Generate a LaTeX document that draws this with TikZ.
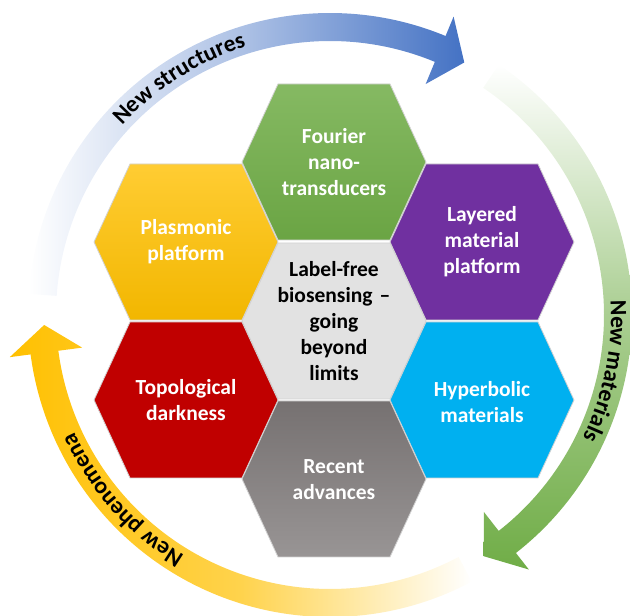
\documentclass[tikz,border=0pt]{standalone}
\usepackage{fontspec}
\setmainfont{Carlito}
\usetikzlibrary{calc, decorations.text}

\definecolor{hexgreen}{HTML}{70AD47}
\definecolor{hexyellow}{HTML}{FFC000}
\definecolor{hexpurple}{HTML}{7030A0}
\definecolor{hexred}{HTML}{C00000}
\definecolor{hexblue}{HTML}{00B0F0}
\definecolor{hexlight}{HTML}{E2E2E2}
\definecolor{hexdark}{HTML}{767171}
\definecolor{arrowblue}{HTML}{4472C4}
\definecolor{arrowgreen}{HTML}{70AD47}
\definecolor{arrowyellow}{HTML}{FFC000}

\newcommand{\ringfont}{\bfseries\fontsize{23.5}{23.5}\selectfont}

\begin{document}
\begin{tikzpicture}[x=1pt, y=1pt]
% Styles
\tikzstyle{hexbox} = [draw=gray!35, line width=0.8pt]
\tikzstyle{hexlabel} = [text width=150pt, align=center, inner sep=0pt, text=white, font=\bfseries\fontsize{21.5}{26}\selectfont]
\tikzstyle{ringtext} = [decorate, decoration={text along path, text align=center, text color=black}]

\useasboundingbox (0,0) rectangle (630,616);

% hexagon outline round the origin
\def\hexpath{(-56,78) -- (56,78) -- (92,0) -- (56,-78) -- (-56,-78) -- (-92,0) -- cycle}

% Ring of arrows
\begin{scope}[shift={(330,301)}]
\shade[left color=white, right color=arrowblue, middle color=arrowblue!45!white]
  (176:302) arc[start angle=176, end angle=67.5, radius=302] -- (67.5:323) -- (62:286) -- (67.5:250)
  -- (67.5:274) arc[start angle=67.5, end angle=176, radius=274] -- cycle;
\shade[top color=white, bottom color=arrowgreen, middle color=arrowgreen!60!white]
  (56:302) arc[start angle=56, end angle=-52, radius=302] -- (-52:323) -- (-57.5:286) -- (-52:250)
  -- (-52:274) arc[start angle=-52, end angle=56, radius=274] -- cycle;
\shade[left color=arrowyellow, right color=white, middle color=arrowyellow!70!white]
  (-62:302) arc[start angle=-62, end angle=-172.5, radius=302] -- (-172.5:323) -- (-178:286) -- (-172.5:250)
  -- (-172.5:274) arc[start angle=-172.5, end angle=-62, radius=274] -- cycle;

\path[ringtext, decoration={text={|\ringfont|New structures}}]
  (147.5:281) arc[start angle=147.5, end angle=97.5, radius=281];
\path[ringtext, decoration={text={|\ringfont|New materials}}]
  (13.5:281) arc[start angle=13.5, end angle=-36.5, radius=281];
\path[ringtext, decoration={text={|\ringfont|New phenomena}}]
  (-113.3:281) arc[start angle=-113.3, end angle=-163.3, radius=281];
\end{scope}

% Hexagons
\shade[hexbox, top color=hexgreen!85!white, bottom color=hexgreen!95!black, shift={(334,454)}] \hexpath;
\shade[hexbox, top color=hexyellow!80!white, bottom color=hexyellow!95!black, shift={(186,374)}] \hexpath;
\fill[hexbox, fill=hexpurple, shift={(482,374)}] \hexpath;
\fill[hexbox, fill=hexlight, shift={(334,295)}] \hexpath;
\fill[hexbox, fill=hexred, shift={(186,216)}] \hexpath;
\fill[hexbox, fill=hexblue, shift={(482,216)}] \hexpath;
\shade[hexbox, top color=hexdark, bottom color=hexdark!75!white, shift={(334,137)}] \hexpath;

\node[hexlabel] (fourier) at (334,454) {Fourier\\nano-\\transducers};
\node[hexlabel] (plasmonic) at (186,374) {Plasmonic\\platform};
\node[hexlabel] (layered) at (482,374) {Layered\\material\\platform};
\node[hexlabel, text=black] (biosensing) at (334,295) {Label-free\\biosensing --\\going\\beyond\\limits};
\node[hexlabel] (topological) at (186,216) {Topological\\darkness};
\node[hexlabel] (hyperbolic) at (482,214) {Hyperbolic\\materials};
\node[hexlabel] (recent) at (334,136) {Recent\\advances};

\end{tikzpicture}
\end{document}
